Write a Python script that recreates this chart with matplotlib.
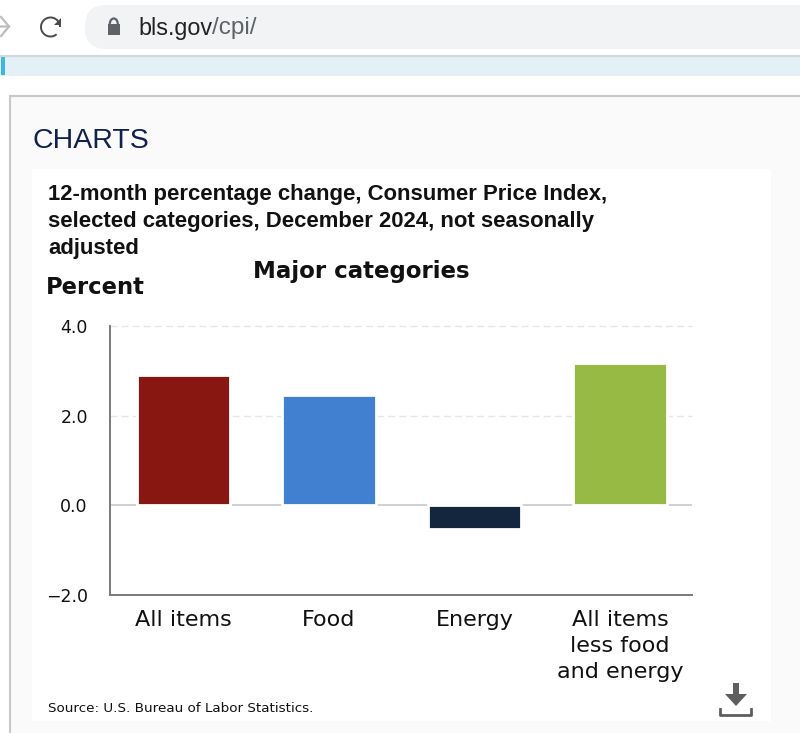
import numpy as np
import matplotlib.pyplot as plt
from matplotlib.patches import Rectangle, FancyBboxPatch, Arc, Polygon

categories = ['All items', 'Food', 'Energy', 'All items\nless food\nand energy']
values = [2.9, 2.47, -0.53, 3.18]
colors = ['#881711', '#4180D0', '#14263D', '#97BA44']
yticks = [-2.0, 0.0, 2.0, 4.0]

W, H = 800, 733
fig = plt.figure(figsize=(W / 100, H / 100), dpi=100, facecolor='white')

# page furniture, drawn in pixel coords
bg = fig.add_axes([0, 0, 1, 1])
bg.set_xlim(0, W)
bg.set_ylim(H, 0)
bg.axis('off')

bg.add_patch(FancyBboxPatch((85, 5), 760, 44, boxstyle='round,pad=0,rounding_size=21',
                            fc='#F1F3F4', ec='none'))
bg.plot([0, W], [55.5, 55.5], color='#D5D8DB', lw=1.5)
bg.add_patch(Rectangle((0, 56), W, 20, fc='#E3F0F6', ec='none'))
bg.add_patch(Rectangle((1, 57), 4, 18, fc='#3DB7E4', ec='none'))

# back arrow, cut off at left edge
bg.plot([-4, 9, 1], [26.5, 26.5, 17], color='#BDBDBD', lw=1.6)
bg.plot([9, 1], [26.5, 36], color='#BDBDBD', lw=1.6)

# reload icon
bg.add_patch(Arc((50.5, 27), 19, 19, theta1=-310, theta2=0, color='#4A4A4A', lw=1.4))
bg.add_patch(Polygon([[61, 18], [61, 25], [54, 25]], fc='#4A4A4A', ec='none'))

# lock
bg.add_patch(Rectangle((107.5, 24), 12.5, 11, fc='#5F6368', ec='none'))
bg.add_patch(Arc((113.8, 24), 8, 11, theta1=180, theta2=360, color='#5F6368', lw=1.6))

bg.text(138.5, 28, 'bls.gov', fontsize=16.8, family='Liberation Sans', color='#202124', va='center')
bg.text(212, 28, '/cpi/', fontsize=17.5, family='Liberation Sans', color='#5F6368', va='center')

# charts panel
bg.add_patch(Rectangle((9.5, 96), 800, 660, fc='#FAFAFA', ec='#C8C8C8', lw=1.5))
bg.add_patch(Rectangle((32, 169), 739, 552, fc='white', ec='none'))
bg.text(32, 140.5, 'CHARTS', fontsize=20.5, family='Liberation Sans', color='#10204F', va='center')

title = '12-month percentage change, Consumer Price Index,\nselected categories, December 2024, not seasonally\nadjusted'
bg.text(48, 221.5, title, fontsize=15.9, family='Liberation Sans', fontweight='bold',
        color='#111111', va='center', linespacing=1.4)
bg.text(361, 271.5, 'Major categories', fontsize=16.5, fontweight='bold', color='#111111',
        ha='center', va='center')
bg.text(46, 287.5, 'Percent', fontsize=16.3, fontweight='bold', color='#111111', va='center')
bg.text(48, 708, 'Source: U.S. Bureau of Labor Statistics.', fontsize=9.7, color='#111111', va='center')

# download icon
bg.add_patch(Polygon([[733, 683], [739, 683], [739, 694], [747, 694], [736, 706], [725, 694], [733, 694]],
                     fc='#5E5E5E', ec='none'))
bg.plot([720, 720, 751, 751], [709, 715, 715, 709], color='#5E5E5E', lw=2)

# chart
ax = fig.add_axes([110 / W, 1 - 595 / H, 582 / W, 269 / H], facecolor='none')
x = np.arange(len(categories))
ax.bar(x, values, width=0.64, color=colors, edgecolor='white', linewidth=2, zorder=3)
ax.set_xlim(-0.505, 3.495)
ax.set_ylim(-2, 4)
ax.set_yticks(yticks)
ax.set_yticklabels(['\u22122.0', '0.0', '2.0', '4.0'], fontsize=12.5, color='#111111')
ax.set_xticks(x)
ax.set_xticklabels(categories, fontsize=16, color='#111111', linespacing=1.38)
ax.tick_params(axis='both', length=0)
ax.tick_params(axis='y', pad=16)
ax.tick_params(axis='x', pad=11)

for v in [2.0, 4.0]:
    ax.axhline(v, color='#E6E6E6', lw=1, ls=(0, (5, 3)), zorder=1, clip_on=False)
ax.axhline(0, color='#C4C4C4', lw=1.1, zorder=1)

for s in ['top', 'right']:
    ax.spines[s].set_visible(False)
for s in ['left', 'bottom']:
    ax.spines[s].set_color('#7A7A7A')
    ax.spines[s].set_linewidth(1.4)

fig.savefig('out.png', dpi=100)
